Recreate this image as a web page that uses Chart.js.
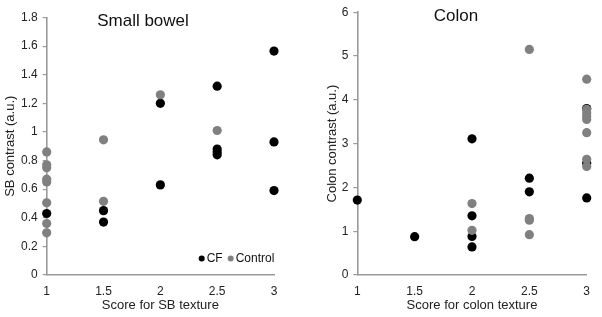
<!DOCTYPE html>
<html>
<head>
<meta charset="utf-8">
<script src="https://cdn.jsdelivr.net/npm/chart.js@4"></script>
<style>
html,body{margin:0;padding:0;background:#fff;}
#wrap{position:relative;width:602px;height:317px;}
#c1{position:absolute;left:0;top:0;}
#c2{position:absolute;left:300px;top:0;}
</style>
</head>
<body>
<div id="wrap">
<canvas id="c1" width="300" height="317"></canvas>
<canvas id="c2" width="302" height="317"></canvas>
</div>
<script>
// ---- Data: Small bowel ----
const sbCF = [
  {x:1, y:0.43},
  {x:1.5, y:0.45}, {x:1.5, y:0.37},
  {x:2, y:1.20}, {x:2, y:0.63},
  {x:2.5, y:1.32}, {x:2.5, y:0.88}, {x:2.5, y:0.86}, {x:2.5, y:0.84},
  {x:3, y:1.565}, {x:3, y:0.93}, {x:3, y:0.59}
];
const sbControl = [
  {x:1, y:0.86}, {x:1, y:0.77}, {x:1, y:0.75}, {x:1, y:0.67}, {x:1, y:0.65},
  {x:1, y:0.505}, {x:1, y:0.36}, {x:1, y:0.295},
  {x:1.5, y:0.945}, {x:1.5, y:0.515},
  {x:2, y:1.26},
  {x:2.5, y:1.01}
];
// ---- Data: Colon ----
const colonCF = [
  {x:1, y:1.71},
  {x:1.5, y:0.875},
  {x:2, y:3.11}, {x:2, y:1.35}, {x:2, y:0.88}, {x:2, y:0.64},
  {x:2.5, y:2.21}, {x:2.5, y:1.90},
  {x:3, y:3.80}, {x:3, y:2.55}, {x:3, y:1.76}
];
const colonControl = [
  {x:2, y:1.63}, {x:2, y:1.02},
  {x:2.5, y:5.15}, {x:2.5, y:1.29}, {x:2.5, y:1.25}, {x:2.5, y:0.92},
  {x:3, y:4.47}, {x:3, y:3.78}, {x:3, y:3.70}, {x:3, y:3.62}, {x:3, y:3.55},
  {x:3, y:3.25}, {x:3, y:2.64}, {x:3, y:2.48}
];
const xTicks = [1, 1.5, 2, 2.5, 3];
const sbYTicks = [0, 0.2, 0.4, 0.6, 0.8, 1, 1.2, 1.4, 1.6, 1.8];
const colonYTicks = [0, 1, 2, 3, 4, 5, 6];
const seriesLabels = ['CF', 'Control'];
const titles = ['Small bowel', 'Colon'];
const xTitles = ['Score for SB texture', 'Score for colon texture'];
const yTitles = ['SB contrast (a.u.)', 'Colon contrast (a.u.)'];

const BLACK = '#000000';
const GREY = '#808080';
const AXIS = '#9a9a9a';
const TEXT = '#222222';
const FONT = "'Liberation Sans', Arial, sans-serif";

const titlePlugin = {
  id: 'panelTitle',
  afterDraw(chart, args, opts) {
    const ctx = chart.ctx;
    ctx.save();
    ctx.font = '17px ' + FONT;
    ctx.fillStyle = '#111';
    ctx.textAlign = 'center';
    ctx.textBaseline = 'middle';
    ctx.fillText(opts.text, opts.x, opts.y);
    ctx.restore();
  }
};

const legendPlugin = {
  id: 'miniLegend',
  afterDraw(chart, args, opts) {
    if (!opts.show) return;
    const ctx = chart.ctx;
    ctx.save();
    ctx.font = '12px ' + FONT;
    ctx.textBaseline = 'middle';
    ctx.textAlign = 'left';
    let x = opts.x;
    const y = opts.y;
    // CF first, then Control
    seriesLabels.forEach(lbl => {
      const ds = chart.data.datasets.find(d => d.label === lbl);
      ctx.fillStyle = ds.backgroundColor;
      ctx.beginPath();
      ctx.arc(x, y, 3, 0, Math.PI * 2);
      ctx.fill();
      ctx.fillStyle = '#111';
      ctx.fillText(ds.label, x + 5, y);
      x += 5 + ctx.measureText(ds.label).width + 8;
    });
    ctx.restore();
  }
};

function fmt(v) { return String(Number(v.toFixed(2))); }

function makeChart(id, cf, ctrl, yTicks, idx, geom) {
  const yMax = yTicks[yTicks.length - 1];
  return new Chart(document.getElementById(id), {
    type: 'scatter',
    data: {
      datasets: [
        {label: seriesLabels[0], data: cf, backgroundColor: BLACK, borderColor: BLACK, pointRadius: 4.6, pointHoverRadius: 4.6, borderWidth: 0, clip: false, order: 2},
        {label: seriesLabels[1], data: ctrl, backgroundColor: GREY, borderColor: GREY, pointRadius: 4.6, pointHoverRadius: 4.6, borderWidth: 0, clip: false, order: 1}
      ]
    },
    options: {
      responsive: false,
      animation: false,
      events: [],
      layout: {padding: {left: 0, right: geom.padRight, top: geom.padTop, bottom: 0}},
      plugins: {
        legend: {display: false},
        tooltip: {enabled: false},
        panelTitle: {text: titles[idx], x: geom.titleX, y: geom.titleY},
        miniLegend: {show: geom.legend, x: geom.legX, y: geom.legY}
      },
      scales: {
        x: {
          type: 'linear', min: 1, max: 3,
          afterBuildTicks: s => { s.ticks = xTicks.map(v => ({value: v})); },
          afterFit: s => { s.height = 42; },
          grid: {display: false, drawTicks: false},
          border: {display: true, color: AXIS, width: 1.6},
          ticks: {color: TEXT, font: {family: FONT, size: 12}, padding: 9, callback: v => fmt(v), maxRotation: 0},
          title: {display: true, text: xTitles[idx], color: TEXT, font: {family: FONT, size: 13}, padding: {top: 0, bottom: 3.5}}
        },
        y: {
          type: 'linear', min: 0, max: yMax,
          afterBuildTicks: s => { s.ticks = yTicks.map(v => ({value: v})); },
          afterFit: s => { s.width = geom.yWidth; },
          grid: {drawOnChartArea: false, drawTicks: true, tickLength: 4, color: AXIS, lineWidth: 1.2},
          border: {display: true, color: AXIS, width: 1.6},
          ticks: {color: TEXT, font: {family: FONT, size: 12}, padding: 5, callback: v => fmt(v)},
          title: {display: true, text: yTitles[idx], color: TEXT, font: {family: FONT, size: 13}, padding: {top: geom.yTitlePad, bottom: 0}}
        }
      }
    },
    plugins: [titlePlugin, legendPlugin]
  });
}

makeChart('c1', sbCF, sbControl, sbYTicks, 0,
  {padRight: 26, padTop: 17.5, yWidth: 46.7, titleX: 143, titleY: 21.5, legend: true, legX: 201.7, legY: 258.5, yTitlePad: 2.5});
makeChart('c2', colonCF, colonControl, colonYTicks, 1,
  {padRight: 15.3, padTop: 10, yWidth: 57.3, titleX: 156, titleY: 16, legend: false, legX: 0, legY: 0, yTitlePad: 25});
</script>
</body>
</html>
